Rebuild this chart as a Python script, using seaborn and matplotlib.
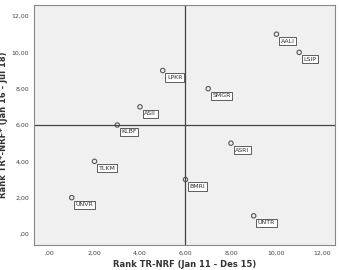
import numpy as np
import pandas as pd
import seaborn as sns
import matplotlib.pyplot as plt

# Rank data
tickers = ['UNVR', 'TLKM', 'KLBF', 'ASII', 'LPKR', 'BMRI', 'SMGR', 'ASRI', 'UNTR', 'AALI', 'LSIP']
rank_x = [1, 2, 3, 4, 5, 6, 7, 8, 9, 10, 11]
rank_y = [2, 4, 6, 7, 9, 3, 8, 5, 1, 11, 10]
ticks = [0, 2, 4, 6, 8, 10, 12]

df = pd.DataFrame({'x': rank_x, 'y': rank_y, 'label': tickers})

sns.set_style('white')
fig = plt.figure(figsize=(3.4, 2.7), dpi=100)
ax = fig.add_axes([0.10, 0.093, 0.885, 0.888])
ax.set_facecolor('#f0f0f0')

sns.scatterplot(data=df, x='x', y='y', ax=ax, marker='o', s=10,
                facecolor='none', edgecolor='#555555', linewidth=0.8)

for _, r in df.iterrows():
    ax.annotate(r['label'], (r['x'], r['y']), xytext=(3, -5), textcoords='offset points',
                fontsize=4.5, color='#333333', va='center', ha='left',
                bbox=dict(boxstyle='square,pad=0.25', fc='white', ec='#444444', lw=0.6))

ax.axvline(6, color='#444444', lw=0.9)
ax.axhline(6, color='#444444', lw=0.9)

ax.set_xlim(-0.66, 12.57)
ax.set_ylim(-0.6, 12.6)
ax.set_xticks(ticks)
ax.set_yticks(ticks)
fmt = lambda v: (',00' if v == 0 else f'{v},00')
ax.set_xticklabels([fmt(t) for t in ticks], fontsize=4.5, color='#444444')
ax.set_yticklabels([fmt(t) for t in ticks], fontsize=4.5, color='#444444')
ax.tick_params(axis='y', length=2, width=0.6, color='#444444', pad=1.5)
ax.tick_params(axis='x', length=0, pad=4)

ax.set_xlabel('Rank TR-NRF (Jan 11 - Des 15)', fontsize=6, fontweight='bold', color='#333333', labelpad=3)
ax.set_ylabel('Rank TR*-NRF* (Jan 16 - Jul 18)', fontsize=6, fontweight='bold', color='#333333')
ax.yaxis.set_label_coords(-0.085, 0.5)

for s in ax.spines.values():
    s.set_color('#888888')
    s.set_linewidth(0.8)

fig.savefig('out.png', dpi=100)
